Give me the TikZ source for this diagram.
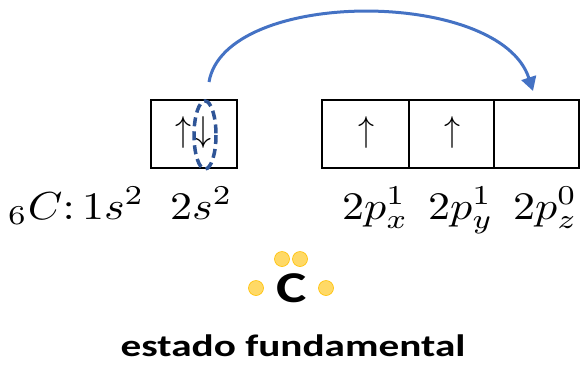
\documentclass[tikz,border=0pt]{standalone}
\usepackage{fontspec}
\newfontfamily\carlito{Carlito}
\usetikzlibrary{arrows.meta}
\definecolor{arrowblue}{HTML}{4472C4}
\definecolor{darkblue}{HTML}{2F5597}
\definecolor{dotfill}{HTML}{FFD966}
\definecolor{dotline}{HTML}{FFC000}
\newcommand{\biglab}[1]{\scalebox{4.4}[3.9]{$#1$}}
\newcommand{\bigspin}[1]{\scalebox{3.2}[3.6]{$#1$}}
\tikzset{
  orb/.style={draw=black, line width=1.5pt, minimum height=68pt, inner sep=0pt, outer sep=0pt},
  lab/.style={anchor=base west, inner sep=0pt},
  spin/.style={inner sep=0pt},
  dot/.style={circle, fill=dotfill, draw=dotline, line width=0.6pt, minimum size=15pt, inner sep=0pt},
}
\begin{document}
\begin{tikzpicture}[x=1pt,y=-1pt]
\useasboundingbox (0,0) rectangle (581,365);
% orbital boxes
\node[orb, minimum width=86pt] (s2) at (194,134) {};
\node[orb, minimum width=87pt] (px) at (365.5,134) {};
\node[orb, minimum width=85pt] (py) at (451.5,134) {};
\node[orb, minimum width=85pt] (pz) at (536.5,134) {};
% spins
\node[spin] (s2up) at (183,132) {\bigspin{\uparrow}};
\node[spin] (s2dn) at (203,132) {\bigspin{\downarrow}};
\node[spin] (pxup) at (366,132) {\bigspin{\uparrow}};
\node[spin] (pyup) at (452,132) {\bigspin{\uparrow}};
% dashed ellipse
\draw[darkblue, line width=3.5pt, dash pattern=on 9pt off 5pt] (205,135) ellipse [x radius=11, y radius=34];
% promotion arrow
\coordinate (arrS) at (209,82);
\coordinate (arrE) at (533,91);
\draw[arrowblue, line width=3pt, -{Triangle[length=14pt,width=15pt]}] (arrS) .. controls (225,-12) and (500,-12) .. (arrE);
% configuration labels
\node[lab] (cfg) at (8,219) {\biglab{{}_6C{:}\,1s^2}};
\node[lab] (l2s) at (170,219) {\biglab{2s^2}};
\node[lab] (l2px) at (342,219) {\biglab{2p_x^1}};
\node[lab] (l2py) at (428,219) {\biglab{2p_y^1}};
\node[lab] (l2pz) at (513,219) {\biglab{2p_z^0}};
% Lewis structure
\node[inner sep=0pt, font=\carlito\bfseries\fontsize{44}{46}\selectfont] (lewisC) at (292,288) {\scalebox{1.3}[1]{C}};
\node[dot] (d1) at (282,259) {};
\node[dot] (d2) at (300,259) {};
\node[dot] (d3) at (256,288) {};
\node[dot] (d4) at (326,288) {};
% caption
\node[anchor=base, inner sep=0pt, font=\carlito\bfseries\fontsize{31}{33}\selectfont] (cap) at (293,356) {\scalebox{1.33}[1]{estado fundamental}};
\end{tikzpicture}
\end{document}
